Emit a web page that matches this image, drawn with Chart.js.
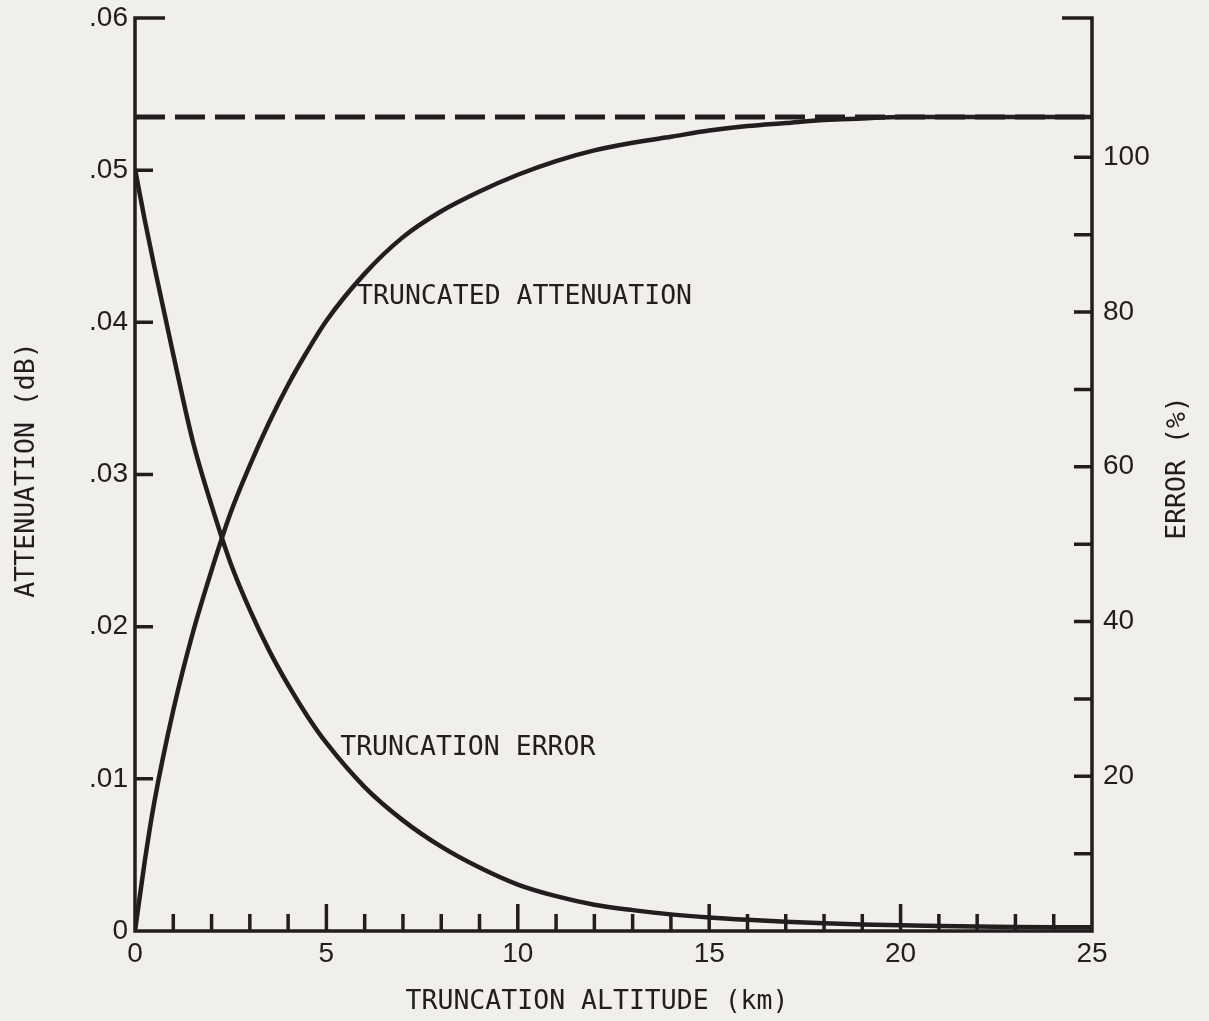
<!DOCTYPE html>
<html>
<head>
<meta charset="utf-8">
<script src="https://cdn.jsdelivr.net/npm/chart.js@4/dist/chart.umd.min.js"></script>
<style>
  html, body { margin: 0; padding: 0; background: #f0efeb; }
  #wrap { width: 1209px; height: 1021px; position: relative; }
</style>
</head>
<body>
<div id="wrap"><canvas id="c" width="1209" height="1021"></canvas></div>
<script>
// Truncation altitude (km)
const altitudeKm = [0, 0.25, 0.5, 1, 1.5, 2, 2.5, 3, 3.5, 4, 4.5, 5, 6, 7, 8, 9, 10, 11, 12, 13, 14, 15, 16, 17, 18, 19, 20, 21, 22, 23, 24, 25];
// Attenuation accumulated below the truncation altitude (dB)
const attenuationDb = [0, 0.0045, 0.0084, 0.0145, 0.0195, 0.0237, 0.0275, 0.0306, 0.0334, 0.0359, 0.0381, 0.0401, 0.0432, 0.0456, 0.0473, 0.0486, 0.0497, 0.0506, 0.0513, 0.0518, 0.0522, 0.0526, 0.0529, 0.0531, 0.0533, 0.0534, 0.0535, 0.0535, 0.0535, 0.0535, 0.0535, 0.0535];
// Truncation error (%)
const errorPct = [98.5, 92, 86, 74.5, 63.5, 55, 47.5, 41.5, 36.3, 31.8, 27.8, 24.3, 18.6, 14.3, 10.9, 8.2, 6.0, 4.5, 3.4, 2.7, 2.15, 1.75, 1.45, 1.2, 1.0, 0.85, 0.75, 0.65, 0.58, 0.53, 0.5, 0.48];
// Total (untruncated) attenuation, drawn dashed
const totalAttenuationDb = 0.0535;

const xTickLabels = ['0', '5', '10', '15', '20', '25'];
const leftTickLabels = ['0', '.01', '.02', '.03', '.04', '.05', '.06'];
const rightTickLabels = ['20', '40', '60', '80', '100'];

const INK = '#221e1f';
const BG = '#f0efeb';
const LETTER_FONT = '"DejaVu Sans Mono", monospace';
const NUM_FONT = '"Liberation Sans", Arial, sans-serif';

const xy = (xs, ys) => xs.map((x, i) => ({ x: x, y: ys[i] }));

const framePlugin = {
  id: 'frame',
  beforeDraw(chart) {
    const ctx = chart.ctx;
    ctx.save();
    ctx.fillStyle = BG;
    ctx.fillRect(0, 0, chart.width, chart.height);
    ctx.restore();
  },
  afterDatasetsDraw(chart) {
    const { ctx, scales } = chart;
    const x = scales.x, yL = scales.y, yR = scales.yR;
    const left = x.getPixelForValue(0), right = x.getPixelForValue(25);
    const bottom = yL.getPixelForValue(0), top = yL.getPixelForValue(0.06);
    ctx.save();
    ctx.strokeStyle = INK;
    ctx.lineCap = 'butt';
    ctx.lineWidth = 3.5;
    ctx.beginPath();
    // left axis with top stub
    ctx.moveTo(left + 30, top); ctx.lineTo(left, top); ctx.lineTo(left, bottom);
    // bottom axis
    ctx.lineTo(right, bottom);
    // right axis with top stub
    ctx.lineTo(right, top); ctx.lineTo(right - 30, top);
    ctx.stroke();

    ctx.beginPath();
    // left axis ticks (inward)
    for (let v = 1; v <= 5; v++) {
      const py = yL.getPixelForValue(v / 100);
      ctx.moveTo(left, py); ctx.lineTo(left + 18, py);
    }
    // right axis ticks (inward)
    for (let v = 10; v <= 100; v += 10) {
      const py = yR.getPixelForValue(v);
      ctx.moveTo(right, py); ctx.lineTo(right - 18, py);
    }
    // altitude ticks (inward)
    for (let k = 1; k < 25; k++) {
      const px = x.getPixelForValue(k);
      const len = k % 5 === 0 ? 27 : 17;
      ctx.moveTo(px, bottom); ctx.lineTo(px, bottom - len);
    }
    ctx.stroke();

    // curve labels
    ctx.fillStyle = INK;
    ctx.font = '26.5px ' + LETTER_FONT;
    ctx.textBaseline = 'middle';
    ctx.textAlign = 'left';
    ctx.fillText('TRUNCATED ATTENUATION', x.getPixelForValue(5.8), yL.getPixelForValue(0.04166));
    ctx.fillText('TRUNCATION ERROR', x.getPixelForValue(5.36), yL.getPixelForValue(0.01202));

    // axis titles
    ctx.textAlign = 'center';
    ctx.fillText('TRUNCATION ALTITUDE (km)', 597, 1002);
    ctx.save();
    ctx.translate(27, 470);
    ctx.rotate(-Math.PI / 2);
    ctx.fillText('ATTENUATION (dB)', 0, 0);
    ctx.restore();
    ctx.save();
    ctx.translate(1178, 468);
    ctx.rotate(-Math.PI / 2);
    ctx.fillText('ERROR (%)', 0, 0);
    ctx.restore();
    ctx.restore();
  }
};

const tickFont = { family: NUM_FONT, size: 28 };

// vertical scales: fixed width, no extra room reserved for end labels
const fitVertical = (w) => (s) => {
  s.width = w;
  s.paddingTop = 0;
  s.paddingBottom = 0;
};

new Chart(document.getElementById('c'), {
  type: 'line',
  data: {
    datasets: [
      {
        label: 'Total attenuation',
        data: [{ x: 0, y: totalAttenuationDb }, { x: 25, y: totalAttenuationDb }],
        yAxisID: 'y',
        borderColor: INK,
        borderWidth: 5,
        borderDash: [30, 10],
        pointRadius: 0,
        tension: 0
      },
      {
        label: 'Truncated attenuation',
        data: xy(altitudeKm, attenuationDb),
        yAxisID: 'y',
        borderColor: INK,
        borderWidth: 4.5,
        pointRadius: 0,
        cubicInterpolationMode: 'monotone'
      },
      {
        label: 'Truncation error',
        data: xy(altitudeKm, errorPct),
        yAxisID: 'yR',
        borderColor: INK,
        borderWidth: 4.5,
        pointRadius: 0,
        cubicInterpolationMode: 'monotone'
      }
    ]
  },
  options: {
    responsive: false,
    animation: false,
    devicePixelRatio: 1,
    layout: { padding: { top: 18, left: 0, right: 0, bottom: 0 } },
    plugins: { legend: { display: false }, tooltip: { enabled: false } },
    scales: {
      x: {
        type: 'linear',
        min: 0, max: 25,
        afterFit(s) { s.height = 90; s.paddingLeft = 0; s.paddingRight = 0; },
        grid: { display: false, drawTicks: false },
        border: { display: false },
        ticks: {
          stepSize: 5,
          padding: 6,
          color: INK,
          font: tickFont,
          maxRotation: 0,
          callback: (v) => xTickLabels[Math.round(v / 5)] ?? ''
        }
      },
      y: {
        position: 'left',
        min: 0, max: 0.06,
        afterFit: fitVertical(135),
        grid: { display: false, drawTicks: false },
        border: { display: false },
        ticks: {
          stepSize: 0.01,
          padding: 7,
          color: INK,
          font: tickFont,
          callback: (v) => leftTickLabels[Math.round(v * 100)] ?? ''
        }
      },
      yR: {
        position: 'right',
        min: 0, max: 118,
        afterFit: fitVertical(117),
        grid: { display: false, drawTicks: false },
        border: { display: false },
        ticks: {
          stepSize: 10,
          padding: 11,
          color: INK,
          font: tickFont,
          callback: (v) => (v % 20 === 0 && v > 0 && v <= 100) ? rightTickLabels[v / 20 - 1] : ''
        }
      }
    }
  },
  plugins: [framePlugin]
});
</script>
</body>
</html>
